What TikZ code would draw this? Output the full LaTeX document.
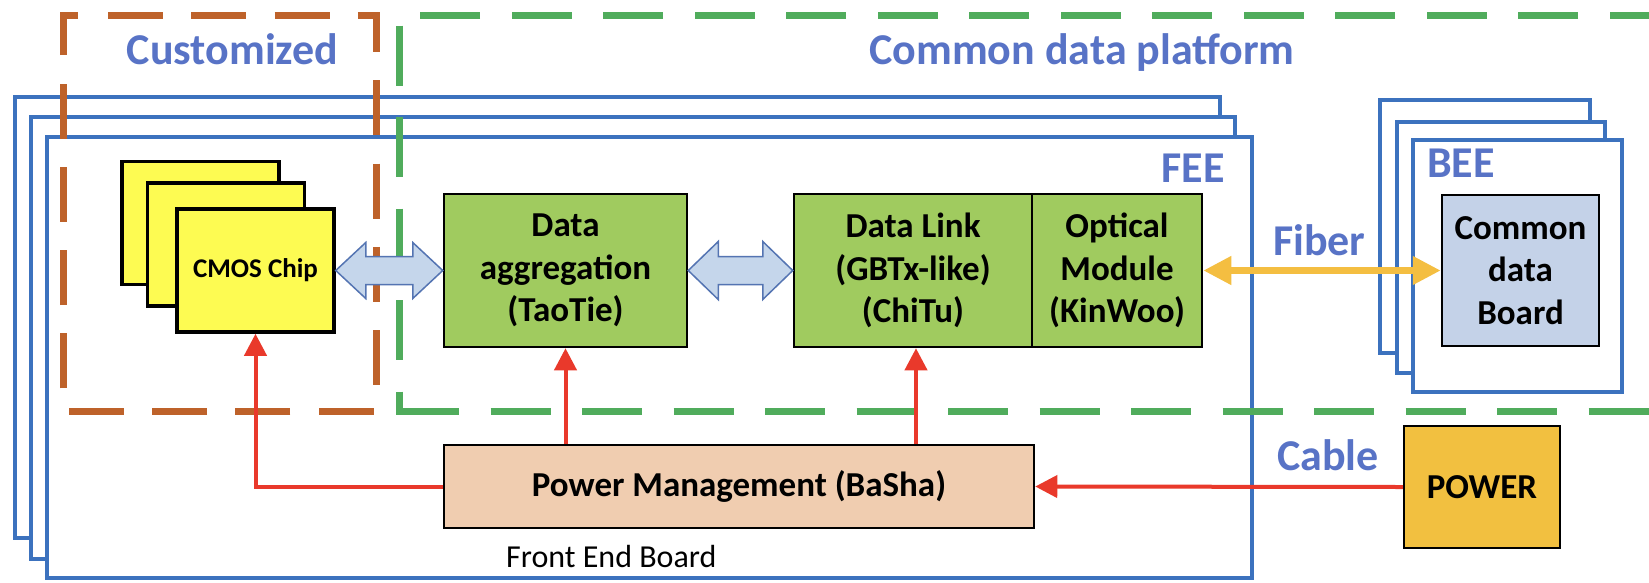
\documentclass[tikz,border=0pt]{standalone}
\usepackage{fontspec}
\setmainfont{Carlito}
\usetikzlibrary{arrows.meta,calc}

\definecolor{boardblue}{RGB}{60,114,190}
\definecolor{labelblue}{RGB}{88,115,198}
\definecolor{custorange}{RGB}{190,98,42}
\definecolor{platgreen}{RGB}{80,172,92}
\definecolor{chipyellow}{RGB}{253,251,82}
\definecolor{blockgreen}{RGB}{160,203,95}
\definecolor{pmpeach}{RGB}{240,205,176}
\definecolor{powergold}{RGB}{242,192,64}
\definecolor{cdbblue}{RGB}{196,210,232}
\definecolor{busfill}{RGB}{197,214,235}
\definecolor{busdraw}{RGB}{84,116,178}
\definecolor{fibergold}{RGB}{244,190,65}
\definecolor{powerred}{RGB}{233,57,43}

\begin{document}
\begin{tikzpicture}[x=1pt,y=-1pt,
  board/.style={draw=boardblue,line width=4.5pt,fill=white},
  chipbox/.style={draw=black,line width=3.5pt,fill=chipyellow,
    minimum width=157pt,minimum height=123pt,inner sep=0pt},
  greenbox/.style={draw=black,line width=2.5pt,fill=blockgreen,inner sep=0pt,
    minimum height=153pt,align=center,font=\bfseries\fontsize{35}{42.5}\selectfont},
  textbox/.style={draw=black,line width=2.5pt,inner sep=0pt,align=center,
    font=\bfseries\fontsize{35}{42.5}\selectfont},
  bus/.style={draw=busdraw,line width=1.5pt,fill=busfill,line join=miter},
  powerarrow/.style={draw=powerred,line width=4pt,
    -{Triangle[length=22pt,width=22pt]}},
  fiber/.style={draw=fibergold,line width=7pt,
    {Triangle[length=28pt,width=27pt]}-{Triangle[length=28pt,width=27pt]}},
  bluelabel/.style={text=labelblue,inner sep=0pt,
    font=\bfseries\fontsize{44}{53}\selectfont},
  custdash/.style={draw=custorange,line width=7pt,
    dash pattern=on 55pt off 28.3pt},
  platdash/.style={draw=platgreen,line width=7pt,
    dash pattern=on 60pt off 31.5pt}
]
\useasboundingbox (0,0) rectangle (1649,582);

% stacked front-end boards
\draw[board] (15,97) rectangle (1220,538);
\draw[board] (31,117) rectangle (1235,559);
\draw[board] (47,137) rectangle (1252,578);

% stacked back-end boards
\draw[board] (1380,100) rectangle (1590,353);
\draw[board] (1397,122) rectangle (1605,373);
\draw[board] (1413,140) rectangle (1622,392);

% CMOS chips
\node[chipbox] (chip1) at (200.5,223) {};
\node[chipbox] (chip2) at (226,244.5) {};
\node[chipbox,font=\bfseries\fontsize{27}{32}\selectfont] (chip3) at (255.5,270.5) {CMOS Chip};

% processing blocks
\node[greenbox,minimum width=243pt] (agg) at (565.5,270.5) {Data\\aggregation\\(TaoTie)};
\node[greenbox,minimum width=238pt] (link) at (913,270.5) {Data Link\\(GBTx-like)\\(ChiTu)};
\node[greenbox,minimum width=170pt] (opt) at (1117,270.5) {Optical\\Module\\(KinWoo)};
\node[textbox,fill=pmpeach,minimum width=590pt,minimum height=83pt] (pm) at (739,486.5) {Power Management (BaSha)};
\node[textbox,fill=powergold,minimum width=156pt,minimum height=122pt] (power) at (1482,487) {POWER};
\node[textbox,fill=cdbblue,minimum width=157pt,minimum height=151pt] (cdb) at (1520.5,270.5) {Common\\data\\Board};

% customized region
\draw[custdash,dash phase=69.3pt] (94,15) -- (376,15) -- (376,411) -- (63,411) -- (63,15) -- cycle;

% common data platform region (open to the right)
\draw[platdash] (399,411) -- (1649,411);
\draw[platdash,dash phase=20.5pt] (1649,15) -- (399,15) -- (399,411);
\fill[platgreen] (395.5,407.5) rectangle (402.5,414.5);

% data buses
\draw[bus] let \p1=(chip3.east), \p2=(agg.west) in
  (\x1,\y1) -- (\x1+30pt,\y1+28pt) -- (\x1+30pt,\y1+14pt) -- (\x2-30pt,\y1+14pt)
  -- (\x2-30pt,\y1+28pt) -- (\x2,\y1) -- (\x2-30pt,\y1-28pt) -- (\x2-30pt,\y1-14pt)
  -- (\x1+30pt,\y1-14pt) -- (\x1+30pt,\y1-28pt) -- cycle;
\draw[bus] let \p1=(agg.east), \p2=(link.west) in
  (\x1,\y1) -- (\x1+30pt,\y1+29pt) -- (\x1+30pt,\y1+14pt) -- (\x2-30pt,\y1+14pt)
  -- (\x2-30pt,\y1+29pt) -- (\x2,\y1) -- (\x2-30pt,\y1-29pt) -- (\x2-30pt,\y1-14pt)
  -- (\x1+30pt,\y1-14pt) -- (\x1+30pt,\y1-29pt) -- cycle;

% power distribution
\draw[powerarrow] (pm.west) -| (chip3.south);
\draw[powerarrow] (pm.north -| agg.south) -- (agg.south);
\draw[powerarrow] ($(pm.north -| link.south)+(3,0)$) -- ($(link.south)+(3,0)$);
\draw[powerarrow] (power.west) -- (pm.east);

% optical link
\draw[fiber] (opt.east) -- (cdb.west);

% labels
\node[bluelabel,anchor=base] (lblcust) at (232.5,64) {Customized};
\node[bluelabel,anchor=base] (lblplat) at (1082,64) {Common data platform};
\node[bluelabel,anchor=base east] (lblfee) at (1225,182) {FEE};
\node[bluelabel,anchor=base west] (lblbee) at (1427,177) {BEE};
\node[bluelabel,anchor=base west] (lblfiber) at (1273,255) {Fiber};
\node[bluelabel,anchor=base west] (lblcable) at (1277,470) {Cable};
\node[anchor=base west,inner sep=0pt,font=\fontsize{32}{38}\selectfont] (lblfeb) at (506,567) {Front End Board};
\end{tikzpicture}
\end{document}
